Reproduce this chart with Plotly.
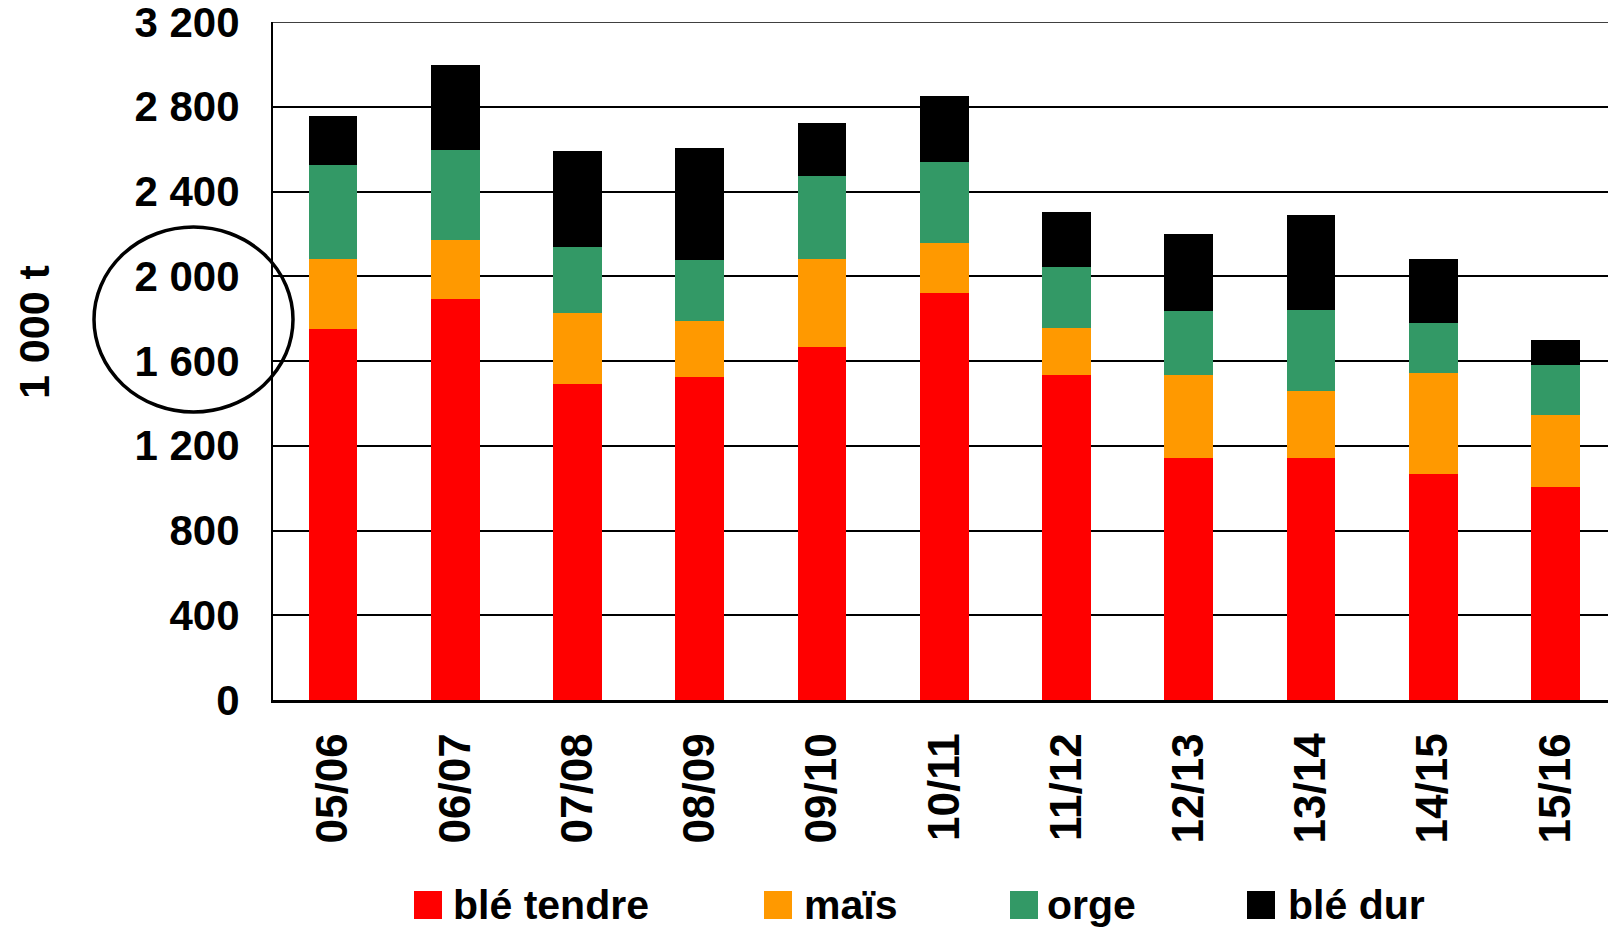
import plotly.graph_objects as go

# Campagnes et volumes (milliers de tonnes)
SEASONS = ["05/06", "06/07", "07/08", "08/09", "09/10", "10/11",
           "11/12", "12/13", "13/14", "14/15", "15/16"]
BLE_TENDRE = [1750, 1895, 1490, 1525, 1665, 1920, 1535, 1140, 1140, 1065, 1005]
MAIS = [330, 275, 335, 265, 415, 235, 220, 395, 320, 480, 340]
ORGE = [445, 425, 315, 285, 395, 385, 290, 300, 380, 235, 235]
BLE_DUR = [230, 400, 450, 530, 250, 310, 260, 365, 450, 300, 120]

SERIES_NAMES = ["blé tendre", "maïs", "orge", "blé dur"]
SERIES_COLORS = ["#FF0000", "#FF9900", "#339966", "#000000"]

Y_TICKS = [0, 400, 800, 1200, 1600, 2000, 2400, 2800, 3200]
Y_TICK_TEXT = ["0", "400", "800", "1 200", "1 600", "2 000", "2 400", "2 800", "3 200"]

FONT = "Liberation Sans, Arial, sans-serif"

W, H = 1608, 930
ML, MR, MT, MB = 273, 0, 22, 230
PW, PH = W - ML - MR, H - MT - MB


def px_x(x):
    """Pixel column -> paper x."""
    return (x - ML) / PW


def px_y(y):
    """Pixel row -> paper y."""
    return (H - MB - y) / PH


fig = go.Figure()
for name, vals, color in zip(SERIES_NAMES, [BLE_TENDRE, MAIS, ORGE, BLE_DUR], SERIES_COLORS):
    fig.add_trace(go.Bar(x=SEASONS, y=vals, name=name,
                         marker=dict(color=color, line=dict(width=0)),
                         showlegend=False))

# Légende dessinée sous l'axe
legend_items = [(414, 451), (764, 802), (1010, 1045), (1247, 1286)]
shapes = []
annotations = []
for (sq_x, tx_x), name, color in zip(legend_items, SERIES_NAMES, SERIES_COLORS):
    shapes.append(dict(type="rect", xref="paper", yref="paper",
                       x0=px_x(sq_x), x1=px_x(sq_x + 28),
                       y0=px_y(919), y1=px_y(891),
                       fillcolor=color, line=dict(width=0)))
    annotations.append(dict(text=name, xref="paper", yref="paper",
                            x=px_x(tx_x), y=px_y(905), xanchor="left", yanchor="middle",
                            showarrow=False,
                            font=dict(family=FONT, size=41, color="black", weight="bold")))

# Ligne supérieure du cadre de graduation (3 200)
shapes.append(dict(type="line", xref="paper", yref="y", layer="below",
                   x0=0, x1=1, y0=Y_TICKS[-1], y1=Y_TICKS[-1],
                   line=dict(color="black", width=1.5)))

# Titre de l'axe vertical
annotations.append(dict(text="1 000 t", xref="paper", yref="paper",
                        x=px_x(34), y=px_y(332), xanchor="center", yanchor="middle",
                        textangle=-90, showarrow=False,
                        font=dict(family=FONT, size=43, color="black", weight="bold")))

# Ellipse de mise en évidence autour des graduations
shapes.append(dict(type="circle", xref="paper", yref="paper", layer="above",
                   x0=px_x(94), x1=px_x(293), y0=px_y(412), y1=px_y(227),
                   line=dict(color="black", width=3.5)))

fig.update_layout(
    width=W, height=H,
    margin=dict(l=ML, r=MR, t=MT, b=MB, pad=0),
    barmode="stack", bargap=0.6,
    plot_bgcolor="white", paper_bgcolor="white",
    showlegend=False,
    shapes=shapes, annotations=annotations,
    font=dict(family=FONT, color="black"),
    xaxis=dict(type="category", range=[-0.491, 10.43],
               showline=True, linecolor="black", linewidth=2.5,
               showgrid=False, zeroline=False, ticks="",
               tickangle=-90, ticklabelstandoff=13,
               tickfont=dict(family=FONT, size=44, color="black", weight="bold")),
    yaxis=dict(range=[0, 3200], tickvals=Y_TICKS, ticktext=Y_TICK_TEXT,
               showline=True, linecolor="black", linewidth=2,
               showgrid=True, gridcolor="black", gridwidth=1.5,
               zeroline=False, ticks="", ticklabelstandoff=23,
               ticklabeloverflow="allow",
               tickfont=dict(family=FONT, size=42, color="black", weight="bold")),
)

fig.write_html("out.html")
